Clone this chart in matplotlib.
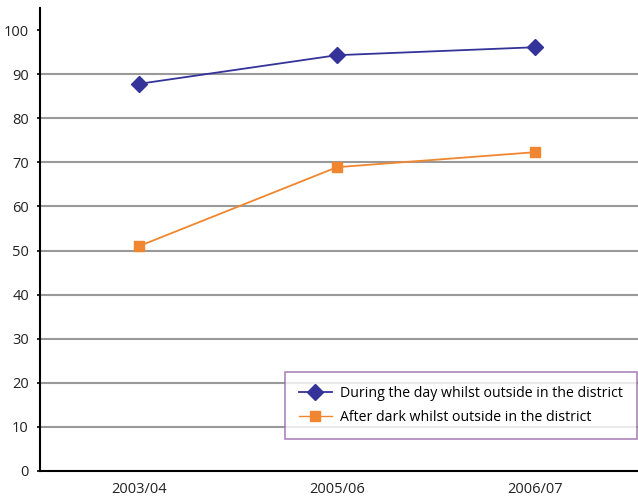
import matplotlib
matplotlib.use("Agg")
import matplotlib.pyplot as plt
from matplotlib.lines import Line2D

categories = ["2003/04", "2005/06", "2006/07"]
day_values = [87.8, 94.3, 96.1]
dark_values = [51.0, 68.9, 72.3]
series_labels = ["During the day whilst outside in the district",
                 "After dark whilst outside in the district"]
yticks = [0, 10, 20, 30, 40, 50, 60, 70, 80, 90, 100]

plt.rcParams['font.family'] = ['Open Sans', 'DejaVu Sans']

fig = plt.figure(figsize=(6.38, 4.97), dpi=100)
ax = fig.add_axes([40/638, 26/497, 1 - 40/638, (471-8)/497])

x = list(range(len(categories)))
blue = "#333399"
orange = "#F0862F"

for v in yticks[1:-1]:
    ax.axhline(v, color="#999999", lw=1.5, zorder=1)

ax.plot(x, day_values, color=blue, lw=1.3, marker="D", markersize=8,
        markerfacecolor=blue, markeredgecolor=blue, zorder=3, label=series_labels[0])
ax.plot(x, dark_values, color=orange, lw=1.3, marker="s", markersize=7.5,
        markerfacecolor=orange, markeredgecolor=orange, zorder=3, label=series_labels[1])

ax.set_xlim(-0.5, 2.52)
ax.set_ylim(0, 105)
ax.set_xticks(x)
ax.set_xticklabels(categories, fontsize=10.5, color="#222222")
ax.set_yticks(yticks)
ax.set_yticklabels([str(v) for v in yticks], fontsize=10.5, color="#222222")
ax.tick_params(axis='x', length=0, pad=8)
ax.tick_params(axis='y', length=2, width=1.2, direction='out', pad=6)

for s in ["top", "right"]:
    ax.spines[s].set_visible(False)
ax.spines["left"].set_linewidth(1.5)
ax.spines["bottom"].set_linewidth(1.5)

handles = [Line2D([0], [0], color=blue, lw=1.3, marker="D", markersize=8),
           Line2D([0], [0], color=orange, lw=1.0, marker="s", markersize=7)]
leg = fig.legend(handles, series_labels, loc="upper left",
                 bbox_to_anchor=(285/638, 1 - 372/497), bbox_transform=fig.transFigure,
                 fontsize=10.2, frameon=True, fancybox=False, handlelength=2.3,
                 handletextpad=0.6, borderpad=1.0, labelspacing=0.6,
                 borderaxespad=0)
leg.get_frame().set_edgecolor("#9966AA")
leg.get_frame().set_linewidth(1.2)
leg.set_zorder(5)

fig.savefig("out.png", dpi=100)
